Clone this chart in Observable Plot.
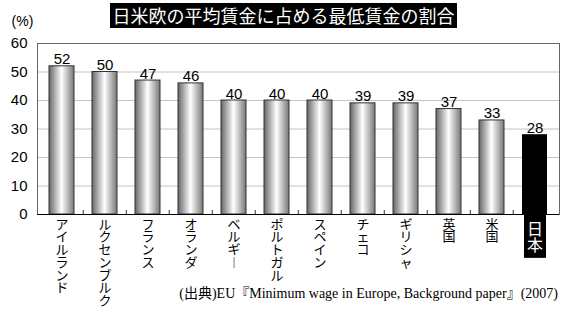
<!DOCTYPE html>
<html><head><meta charset="utf-8">
<script src="https://cdn.jsdelivr.net/npm/d3@7"></script>
<script src="https://cdn.jsdelivr.net/npm/@observablehq/plot@0.6"></script>
<style>
html,body{margin:0;padding:0;background:#fff;}
#wrap{position:relative;width:567px;height:320px;overflow:hidden;}
#wrap svg{position:absolute;left:0;top:0;}
#title{position:absolute;z-index:2;left:110px;top:3px;width:347px;height:25px;background:#000;color:#fff;font:18px/25px "Noto Sans CJK JP",sans-serif;text-align:center;white-space:nowrap;}
#caption{position:absolute;z-index:2;right:9px;top:286px;font:14px/16px "Liberation Serif","Noto Sans CJK JP",serif;white-space:nowrap;color:#000;}
</style></head><body>
<div id="wrap"><div id="title">日米欧の平均賃金に占める最低賃金の割合</div><div id="caption">(出典)EU『Minimum wage in Europe, Background paper』(2007)</div></div>
<script>
const countries = ["アイルランド","ルクセンブルク","フランス","オランダ","ベルギー","ポルトガル","スペイン","チェコ","ギリシャ","英国","米国","日本"];
const shares = [52,50,47,46,40,40,40,39,39,37,33,28];
const yTicks = [0,10,20,30,40,50,60];
const highlight = "日本";
const unitLabel = "(%)";

const W = 567, H = 320, mL = 37, mR = 8, mT = 43, mB = 106;
const step = (W - mL - mR) / countries.length;
const data = countries.map((c, i) => ({country: c, value: shares[i]}));
const others = data.filter(d => d.country !== highlight);
const hi = data.filter(d => d.country === highlight);
// stack characters top-to-bottom (vertical Japanese writing)
const vertical = s => Array.from(s.replace(/ー/g, "︱")).join("\n");

const chart = Plot.plot({
  width: W, height: H,
  marginLeft: mL, marginRight: mR, marginTop: mT, marginBottom: mB,
  style: {fontFamily: '"Liberation Sans","Noto Sans CJK JP",sans-serif', background: "transparent", color: "#000", overflow: "visible"},
  x: {domain: countries, paddingInner: 0.43, paddingOuter: 0.215, axis: null},
  y: {domain: [0, 60], axis: null},
  marks: [
    Plot.gridY(yTicks.slice(1, -1), {stroke: "#c4c4c4", strokeOpacity: 1}),
    Plot.barY(others, {x: "country", y: "value", fill: "url(#barGrad)", stroke: "#333", strokeWidth: 1}),
    Plot.barY(hi, {x: "country", y: "value", fill: "#000"}),
    Plot.frame({stroke: "#666"}),
    Plot.ruleY([0], {stroke: "#000"}),
    Plot.ruleX(countries.slice(1), {x: d => d, dx: -step / 2, insetTop: (H - mT - mB) - 4, stroke: "#333"}),
    Plot.axisY({ticks: yTicks, tickSize: 0, tickPadding: 10, fontSize: 15, label: null}),
    Plot.text(data, {x: "country", y: "value", text: d => String(d.value), dy: -2, lineAnchor: "bottom", fontSize: 15}),
    Plot.text([unitLabel], {frameAnchor: "top-left", text: d => d, dx: -15, dy: -18, lineAnchor: "bottom", textAnchor: "middle", fontSize: 14}),
    Plot.text(countries.filter(c => c !== highlight), {x: d => d, frameAnchor: "bottom", text: vertical, textAnchor: "middle", lineAnchor: "top", lineHeight: 0.98, dy: 5, fontSize: 13, fontFamily: '"Noto Sans CJK JP",sans-serif'}),
    Plot.text([highlight], {x: d => d, frameAnchor: "bottom", text: vertical, textAnchor: "middle", lineAnchor: "top", lineHeight: 1, dy: 9, fontSize: 16, fill: "#fff", fontFamily: '"Noto Sans CJK JP",sans-serif'})
  ]
});

document.getElementById("wrap").prepend(chart);
const svg = d3.select(chart);
svg.insert("defs", ":first-child").html(
  '<linearGradient id="barGrad" x1="0" x2="1" y1="0" y2="0">' +
  '<stop offset="0" stop-color="#666"/><stop offset="0.5" stop-color="#fff"/><stop offset="1" stop-color="#777"/>' +
  '</linearGradient>');
// black box behind the highlighted (Japan) label, sized from the label itself
const jt = Array.from(chart.querySelectorAll("text")).find(t => t.textContent === highlight);
if (jt) {
  const sr = chart.getBoundingClientRect();
  const tr = jt.getBoundingClientRect();
  const grp = jt.parentNode;
  chart.appendChild(Object.assign(document.createElementNS("http://www.w3.org/2000/svg", "rect"), {}));
  const rect = chart.lastChild;
  rect.setAttribute("x", tr.left - sr.left - 3);
  rect.setAttribute("y", tr.top - sr.top - 3);
  rect.setAttribute("width", tr.width + 6);
  rect.setAttribute("height", tr.height + 5);
  rect.setAttribute("fill", "#000");
  chart.appendChild(grp);
}
</script>
</body></html>
